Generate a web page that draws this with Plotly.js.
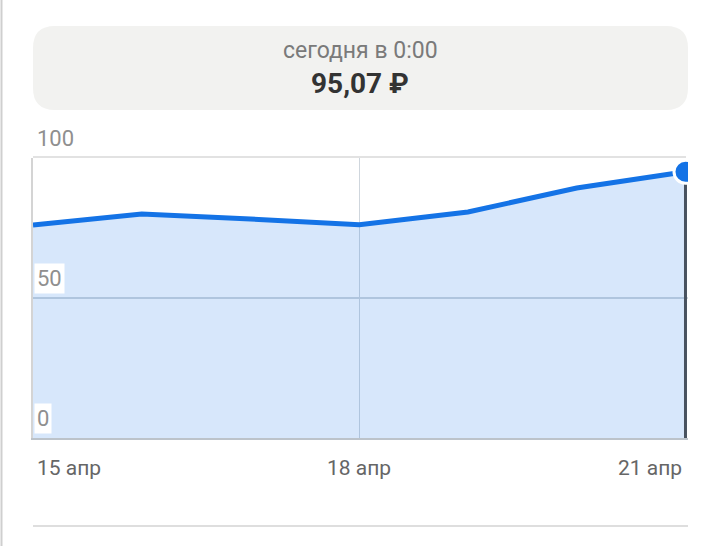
<!DOCTYPE html>
<html>
<head>
<meta charset="utf-8">
<script src="https://cdn.plot.ly/plotly-3.0.1.min.js"></script>
<style>
html,body{margin:0;padding:0;background:#fff;}
#chart{width:719px;height:546px;}
</style>
</head>
<body>
<div id="chart"></div>
<script>
// ---- data ----
const dates = ['2024-04-15','2024-04-16','2024-04-17','2024-04-18','2024-04-19','2024-04-20','2024-04-21'];
const prices = [76.1, 80.0, 78.2, 76.2, 80.7, 89.3, 95.07];
const xTickVals = ['2024-04-15','2024-04-18','2024-04-21'];
const xTickText = ['15 апр','18 апр','21 апр'];
const yTickVals = [0, 50, 100];
const yTickText = ['0','50','100'];
const headerSub = 'сегодня в 0:00';
const headerValue = '95,07 ₽';

// ---- geometry (pixels) ----
const W = 719, H = 546;
const L = 33, R = 688, T = 158, B = 438;
const px = x => (x - L) / (R - L);
const py = y => (B - y) / (B - T);

const lastX = dates[dates.length - 1];
const lastY = prices[prices.length - 1];

// extend the x range a hair past the last day so the edge marker is half-clipped like the reference
const t0 = Date.parse(dates[0] + 'T00:00:00Z');
const t1 = Date.parse(lastX + 'T00:00:00Z');
const pad = (t1 - t0) * 2.5 / 650;
const fmt = t => new Date(t).toISOString().replace('T', ' ').replace('Z', '');

const traces = [
  {
    x: dates, y: prices, type: 'scatter', mode: 'lines',
    line: {color: '#1473e6', width: 5, shape: 'linear'},
    fill: 'tozeroy', fillcolor: 'rgba(20,115,230,0.17)',
    hoverinfo: 'skip'
  },
  {
    x: [lastX, lastX], y: [0, lastY], type: 'scatter', mode: 'lines',
    line: {color: '#48525f', width: 3}, hoverinfo: 'skip'
  },
  {
    x: [lastX], y: [lastY], type: 'scatter', mode: 'markers',
    marker: {color: '#1473e6', size: 23, line: {color: '#ffffff', width: 3}},
    hoverinfo: 'skip'
  }
];

// rounded card path in paper coords
function roundRect(x0, y0, x1, y1, r) {
  const X = v => px(v).toFixed(5), Y = v => py(v).toFixed(5);
  return `M${X(x0 + r)},${Y(y0)} L${X(x1 - r)},${Y(y0)} Q${X(x1)},${Y(y0)} ${X(x1)},${Y(y0 + r)} ` +
         `L${X(x1)},${Y(y1 - r)} Q${X(x1)},${Y(y1)} ${X(x1 - r)},${Y(y1)} ` +
         `L${X(x0 + r)},${Y(y1)} Q${X(x0)},${Y(y1)} ${X(x0)},${Y(y1 - r)} ` +
         `L${X(x0)},${Y(y0 + r)} Q${X(x0)},${Y(y0)} ${X(x0 + r)},${Y(y0)} Z`;
}

const shapes = [
  {type: 'path', xref: 'paper', yref: 'paper', path: roundRect(33, 26, 688, 110, 22),
   fillcolor: '#f2f2f0', line: {width: 0}, layer: 'below'},
  // top border of plot
  {type: 'line', xref: 'paper', yref: 'paper', x0: 0, x1: px(686), y0: py(157), y1: py(157),
   line: {color: '#e2e2e2', width: 2}},
  // bottom separator
  {type: 'line', xref: 'paper', yref: 'paper', x0: 0, x1: px(688), y0: py(526), y1: py(526),
   line: {color: '#dedede', width: 2}},
  // left page border
  {type: 'line', xref: 'paper', yref: 'paper', x0: px(1.5), x1: px(1.5), y0: py(0), y1: py(546),
   line: {color: '#cfcfcf', width: 2}}
];

const annotations = [
  {text: headerSub, xref: 'paper', yref: 'paper', x: px(360), y: py(50), xanchor: 'center', yanchor: 'middle',
   showarrow: false, font: {family: 'Liberation Sans Narrow, Roboto', size: 23, color: '#7a7a7a'}},
  {text: '<b>' + headerValue + '</b>', xref: 'paper', yref: 'paper', x: px(360), y: py(83), xanchor: 'center', yanchor: 'middle',
   showarrow: false, font: {family: 'Liberation Sans Narrow, Roboto', size: 28, color: '#333333'}}
];

const xAnch = ['left', 'center', 'right'];
const xShift = [2, 0, -1];
xTickVals.forEach((v, i) => {
  annotations.push({text: xTickText[i], xref: 'x', yref: 'paper', x: v, y: py(468),
    xanchor: xAnch[i], yanchor: 'middle', xshift: xShift[i], showarrow: false,
    font: {family: 'Roboto', size: 21, color: '#666666'}});
});
yTickVals.forEach((v, i) => {
  annotations.push({text: yTickText[i], xref: 'paper', yref: 'y', x: 0, y: v,
    xanchor: 'left', yanchor: 'middle', yshift: 20, xshift: 1, showarrow: false,
    bgcolor: v === 100 ? 'rgba(0,0,0,0)' : '#ffffff', borderpad: 2,
    font: {family: 'Roboto', size: 22, color: '#8f8f8f'}});
});

const layout = {
  width: W, height: H,
  margin: {l: L, r: W - R, t: T, b: H - B, pad: 0},
  paper_bgcolor: '#ffffff', plot_bgcolor: '#ffffff',
  showlegend: false,
  xaxis: {
    type: 'date', range: [fmt(t0), fmt(t1 + pad)], tickvals: ['2024-04-18'], showticklabels: false,
    showgrid: true, gridcolor: '#cfd6dd', gridwidth: 1.5, zeroline: false,
    showline: true, linecolor: '#bcc3ca', linewidth: 2, ticks: '', fixedrange: true
  },
  yaxis: {
    range: [0, 100], tickvals: [50], showticklabels: false,
    showgrid: true, gridcolor: '#cfd6dd', gridwidth: 1.5, zeroline: false,
    showline: true, linecolor: '#d4d4d4', linewidth: 2, ticks: '', fixedrange: true
  },
  shapes: shapes,
  annotations: annotations,
  font: {family: 'Roboto'}
};

Plotly.newPlot('chart', traces, layout, {displayModeBar: false, staticPlot: true});
</script>
</body>
</html>
